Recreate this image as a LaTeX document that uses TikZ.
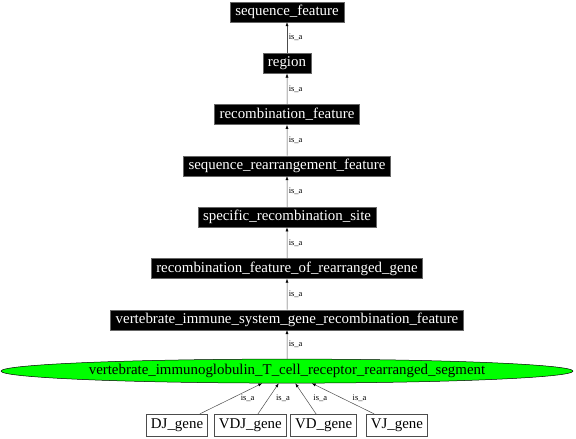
\documentclass[tikz,border=0pt]{standalone}
\usepackage{fontspec}
\setmainfont{Liberation Serif}
\usetikzlibrary{shapes.geometric,arrows.meta}
\begin{document}
\begin{tikzpicture}[x=1pt,y=-1pt,
        every node/.style = {font=\fontsize{14.9}{16}\selectfont},
        term/.style = {rectangle, fill=black, draw=black!60, text=white, inner xsep=5pt, inner ysep=0pt, minimum height=20pt},
        leaf/.style = {rectangle, fill=white, draw=black!70, inner xsep=4.5pt, inner ysep=0pt, minimum height=22pt},
        focus/.style = {ellipse, fill=green, draw=black, inner sep=0pt, minimum width=572pt, minimum height=24pt},
        rel/.style = {font=\fontsize{8.5}{9}\selectfont, text=black, inner sep=1.5pt},
        edge from parent/.style = {draw, black!70, line width=0.5pt, {Latex[length=4pt,width=3pt,black]}-},
        level distance=51.3pt,
        level 8/.style={level distance=54pt, sibling distance=73.3pt}
        ]
        \useasboundingbox (0,0) rectangle (576,439);
        \node[term] (sf) at (287,12) {sequence\_feature}
            child {node[term] (reg) {region}
                child {node[term] (rf) {recombination\_feature}
                    child {node[term] (srf) {sequence\_rearrangement\_feature}
                        child {node[term] (srs) {specific\_recombination\_site}
                            child {node[term] (rfrg) {recombination\_feature\_of\_rearranged\_gene}
                                child {node[term] (visgrf) {vertebrate\_immune\_system\_gene\_recombination\_feature}
                                    child {node[focus] (vitcrrs) {vertebrate\_immunoglobulin\_T\_cell\_receptor\_rearranged\_segment}
                                        child {node[leaf] (dj) {DJ\_gene}
                                            edge from parent node[rel, right, xshift=8pt] {is\_a}}
                                        child {node[leaf] (vdj) {VDJ\_gene}
                                            edge from parent node[rel, right, xshift=6pt] {is\_a}}
                                        child {node[leaf] (vd) {VD\_gene}
                                            edge from parent node[rel, right, xshift=6pt] {is\_a}}
                                        child {node[leaf] (vj) {VJ\_gene}
                                            edge from parent node[rel, right, xshift=8pt] {is\_a}}
                                        edge from parent node[rel, right] {is\_a}
                                    }
                                    edge from parent node[rel, right] {is\_a}
                                }
                                edge from parent node[rel, right] {is\_a}
                            }
                            edge from parent node[rel, right] {is\_a}
                        }
                        edge from parent node[rel, right] {is\_a}
                    }
                    edge from parent node[rel, right] {is\_a}
                }
                edge from parent node[rel, right] {is\_a}
            };
    \end{tikzpicture}
\end{document}
